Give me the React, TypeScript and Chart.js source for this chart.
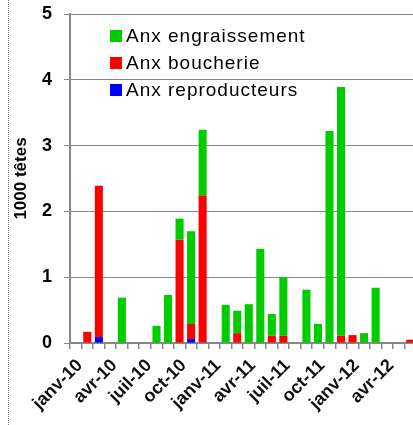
import React, { useEffect, useRef } from 'react';
import { Chart, registerables } from 'chart.js';

Chart.register(...registerables);

const months = [
  'janv-10', 'févr-10', 'mars-10', 'avr-10', 'mai-10', 'juin-10',
  'juil-10', 'août-10', 'sept-10', 'oct-10', 'nov-10', 'déc-10',
  'janv-11', 'févr-11', 'mars-11', 'avr-11', 'mai-11', 'juin-11',
  'juil-11', 'août-11', 'sept-11', 'oct-11', 'nov-11', 'déc-11',
  'janv-12', 'févr-12', 'mars-12', 'avr-12', 'mai-12', 'juin-12',
];

const engraissement = [
  0, 0, 0, 0, 0.69, 0, 0, 0.26, 0.73, 0.32, 1.41, 1.0,
  0, 0.58, 0.34, 0.59, 1.43, 0.33, 0.89, 0, 0.81, 0.29, 3.22, 3.78,
  0, 0.15, 0.84, 0, 0, 0,
];

const boucherie = [
  0, 0.17, 2.3, 0, 0, 0, 0, 0, 0, 1.57, 0.23, 2.24,
  0, 0, 0.15, 0, 0, 0.11, 0.11, 0, 0, 0, 0, 0.11,
  0.12, 0, 0, 0, 0, 0.05,
];

const reproducteurs = [
  0, 0, 0.09, 0, 0, 0, 0, 0, 0, 0, 0.06, 0,
  0, 0, 0, 0, 0, 0, 0, 0, 0, 0, 0, 0,
  0, 0, 0, 0, 0, 0,
];

const seriesLabels = ['Anx reproducteurs', 'Anx boucherie', 'Anx engraissement'];
const seriesColors = ['#0000FF', '#FF0000', '#00CC00'];
const yMin = 0;
const yMax = 5;
const yStep = 1;
const yTitle = '1000 têtes';

const FONT = '"Liberation Sans", Arial, Helvetica, sans-serif';

const insideLegend = {
  id: 'insideLegend',
  afterDraw(chart: any) {
    const { ctx, chartArea } = chart;
    const ds = chart.data.datasets.slice().reverse();
    ctx.save();
    ctx.font = `19px ${FONT}`;
    try {
      (ctx as any).letterSpacing = '1px';
    } catch (e) {}
    ctx.textBaseline = 'middle';
    ctx.textAlign = 'left';
    ds.forEach((d: any, i: number) => {
      const y = chartArea.top + 22 + i * 27;
      const x = chartArea.left + 40;
      ctx.fillStyle = d.backgroundColor;
      ctx.fillRect(x, y - 6, 12, 12);
      ctx.fillStyle = '#000';
      ctx.fillText(d.label, x + 16, y + 1);
    });
    ctx.restore();
  },
};

export default function App() {
  const ref = useRef<HTMLCanvasElement>(null);

  useEffect(() => {
    if (!ref.current) return;
    const chart = new Chart(ref.current, {
      type: 'bar',
      data: {
        labels: months,
        datasets: [
          { label: seriesLabels[0], data: reproducteurs, backgroundColor: seriesColors[0] },
          { label: seriesLabels[1], data: boucherie, backgroundColor: seriesColors[1] },
          { label: seriesLabels[2], data: engraissement, backgroundColor: seriesColors[2] },
        ],
      },
      options: {
        animation: false,
        responsive: false,
        devicePixelRatio: 1,
        layout: { padding: { left: 0, top: 14, right: 14, bottom: 0 } },
        datasets: {
          bar: { barPercentage: 0.7, categoryPercentage: 1, borderWidth: 0 },
        },
        plugins: {
          legend: { display: false },
          tooltip: { enabled: false },
          title: { display: false },
        },
        scales: {
          x: {
            stacked: true,
            offset: true,
            grid: {
              offset: true,
              drawOnChartArea: false,
              drawTicks: true,
              tickLength: 6,
              color: '#888888',
              lineWidth: 1.5,
            },
            border: { color: '#888888', width: 2 },
            ticks: {
              autoSkip: false,
              minRotation: 45,
              maxRotation: 45,
              padding: 6,
              labelOffset: 4,
              color: '#111',
              font: { family: FONT, size: 18, weight: 'bold' },
              callback: (_v: any, i: number) => (i % 3 === 0 ? months[i] : ''),
            },
            afterFit: (s: any) => {
              s.height = 82;
              s.paddingLeft = 0;
              s.paddingRight = 0;
            },
          },
          y: {
            stacked: true,
            min: yMin,
            max: yMax,
            ticks: {
              stepSize: yStep,
              padding: 12,
              color: '#000',
              font: { family: FONT, size: 18, weight: 'bold' },
            },
            grid: {
              color: '#888888',
              lineWidth: 1,
              drawTicks: true,
              tickLength: 6,
            },
            border: { color: '#888888', width: 2 },
            title: {
              display: true,
              text: yTitle,
              color: '#000',
              padding: { top: 11, bottom: 0 },
              font: { family: FONT, size: 17, weight: 'bold' },
            },
            afterFit: (s: any) => {
              s.width = 70;
              s.paddingTop = 0;
              s.paddingBottom = 0;
            },
          },
        },
      },
      plugins: [insideLegend],
    });
    return () => chart.destroy();
  }, []);

  return (
    <div
      style={{
        position: 'fixed',
        left: 0,
        top: 0,
        width: 413,
        height: 425,
        overflow: 'hidden',
        background: '#fff',
      }}
    >
      <div
        style={{
          position: 'absolute',
          left: 8,
          top: 0,
          width: 0,
          height: 425,
          borderLeft: '1px dotted #808080',
        }}
      />
      <canvas
        ref={ref}
        width={430}
        height={425}
        style={{ position: 'absolute', left: 0, top: 0, width: 430, height: 425 }}
      />
    </div>
  );
}
